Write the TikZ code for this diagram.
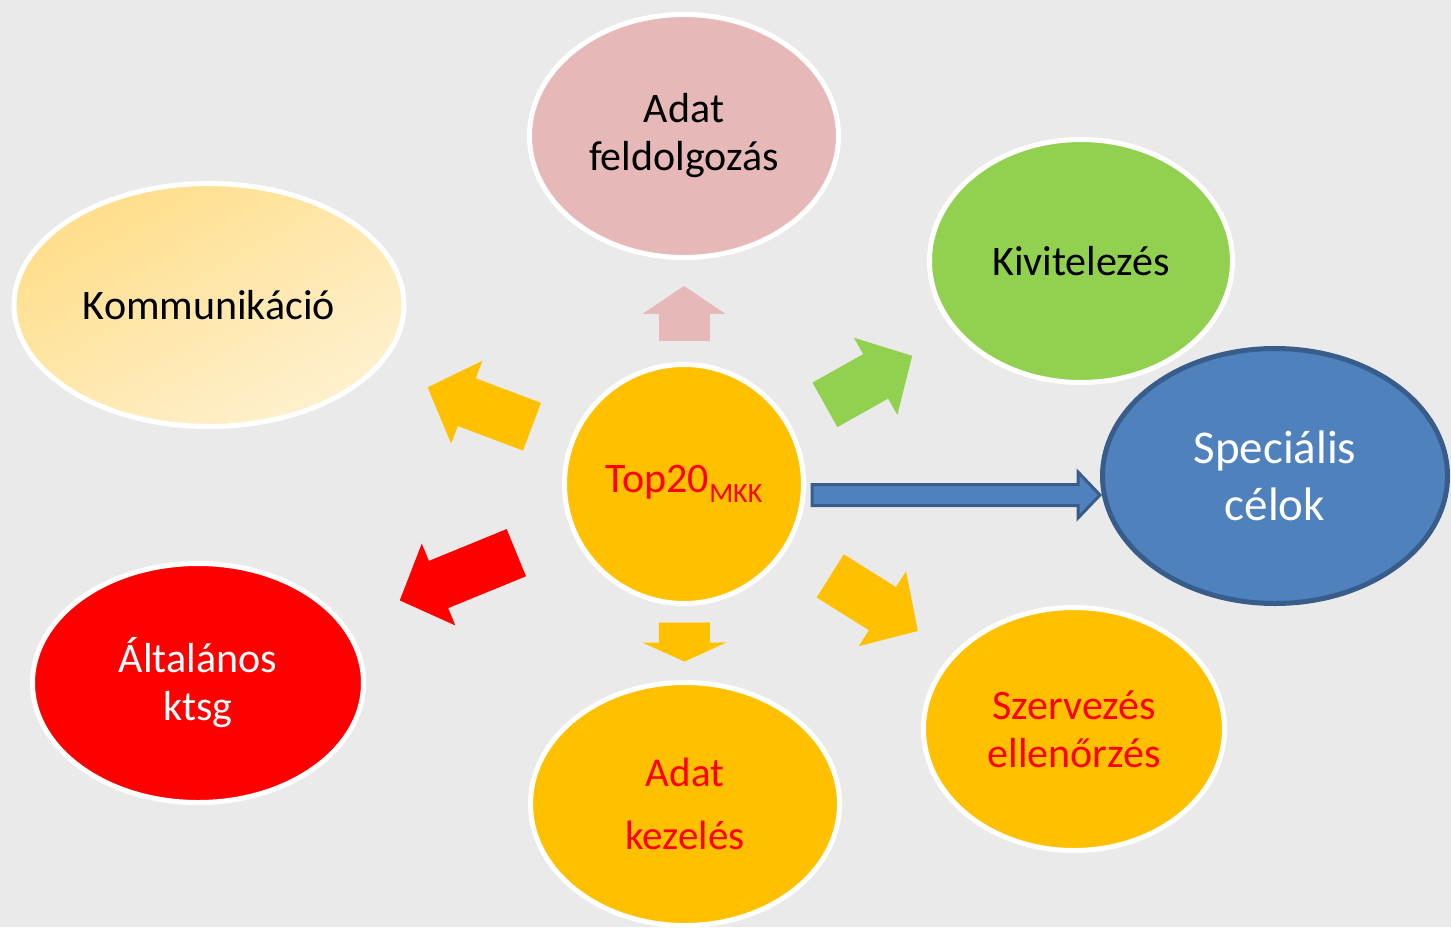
\documentclass[tikz,border=0pt]{standalone}
\usepackage{fontspec}
\setmainfont{Carlito}
\usetikzlibrary{shapes.geometric}
\usetikzlibrary{arrows.meta}
\usetikzlibrary{calc}

\definecolor{bgcol}{HTML}{EAEAEA}
\definecolor{rosy}{HTML}{E6B9B8}
\definecolor{amber}{HTML}{FFC000}
\definecolor{leaf}{HTML}{92D050}
\definecolor{skyblue}{HTML}{4F81BD}
\definecolor{deepblue}{HTML}{385D8A}
\definecolor{lightamberA}{HTML}{FFDE8A}
\definecolor{lightamberB}{HTML}{FFF1CF}
\definecolor{brightred}{HTML}{FF0000}

\begin{document}
\begin{tikzpicture}[x=1pt, y=-1pt,
                    bubble/.style={ellipse, draw=white, line width=5pt, inner sep=0pt, align=center, font={\fontsize{42}{48}\selectfont}},
                    fatarrow/.style={line width=51pt, -{Triangle[length=42pt, width=86pt]}},
                    shortarrow/.style={line width=51pt, -{Triangle[length=28pt, width=82pt]}},
                    stubarrow/.style={line width=51pt, -{Triangle[length=19pt, width=83pt]}},
                    bluearrow/.style={draw=deepblue, fill=skyblue, line width=3pt, line join=miter},
                   ]
  % background
  \fill[bgcol] (0,0) rectangle (1451,927);
  \useasboundingbox (0,0) rectangle (1451,927);

  %Nodes
  \node[bubble, circle, fill=amber, minimum size=239pt, text=brightred] (top) at (684,484)
       {Top20\raisebox{-10pt}{\fontsize{28}{28}\selectfont MKK}};
  \node[bubble, fill=rosy, minimum width=309pt, minimum height=243pt]      (feld)  at (684,136)  {Adat\\feldolgozás};
  \node[bubble, shading=axis, top color=lightamberA, bottom color=lightamberB, shading angle=30,
        minimum width=390pt, minimum height=243pt]                         (komm)  at (209,305)  {Kommunikáció};
  \node[bubble, fill=leaf, minimum width=303pt, minimum height=243pt]      (kiv)   at (1081,261) {Kivitelezés};
  \node[bubble, draw=deepblue, fill=skyblue, text=white, minimum width=345pt, minimum height=255pt,
        font={\fontsize{47}{57}\selectfont}]                               (spec)  at (1275,476) {Speciális\\célok};
  \node[bubble, fill=brightred, text=white, minimum width=331pt, minimum height=239pt] (alt) at (198,683) {Általános\\ktsg};
  \node[bubble, fill=amber, text=brightred, minimum width=309pt, minimum height=243pt,
        font={\fontsize{41}{63}\selectfont}]                               (kez)   at (685,804)  {Adat\\kezelés};
  \node[bubble, fill=amber, text=brightred, minimum width=301pt, minimum height=243pt] (szerv) at (1074,729) {Szervezés\\ellenőrzés};

  %Arrows
  \draw[shortarrow, draw=rosy]      ($(top)!0.411!(feld)$)  -- ($(top)!0.569!(feld)$);
  \draw[fatarrow, draw=leaf]        ($(top)!0.355!(kiv)$)   -- ($(top)!0.575!(kiv)$);
  \draw[fatarrow, draw=amber]       ($(top)!0.32!(komm)$)   -- ($(top)!0.54!(komm)$);
  \draw[fatarrow, draw=brightred]   ($(top)!0.345!(alt)$)   -- ($(top)!0.585!(alt)$);
  \draw[fatarrow, draw=amber]       ($(top)!0.375!(szerv)$) -- ($(top)!0.60!(szerv)$);
  \draw[stubarrow, draw=amber]      ($(top)!0.433!(kez)$)   -- ($(top)!0.555!(kez)$);

  \coordinate (btail) at ($(top.east)+(6,11)$);
  \coordinate (bhead) at ([yshift=-19pt]spec.west);
  \draw[bluearrow] let \p1=(btail), \p2=(bhead) in
        (\x1,\y1+10.5pt) -- (\x2-22pt,\y1+10.5pt) -- (\x2-22pt,\y1+23pt) -- (\x2,\y2)
        -- (\x2-22pt,\y1-23pt) -- (\x2-22pt,\y1-10.5pt) -- (\x1,\y1-10.5pt) -- cycle;
\end{tikzpicture}
\end{document}
